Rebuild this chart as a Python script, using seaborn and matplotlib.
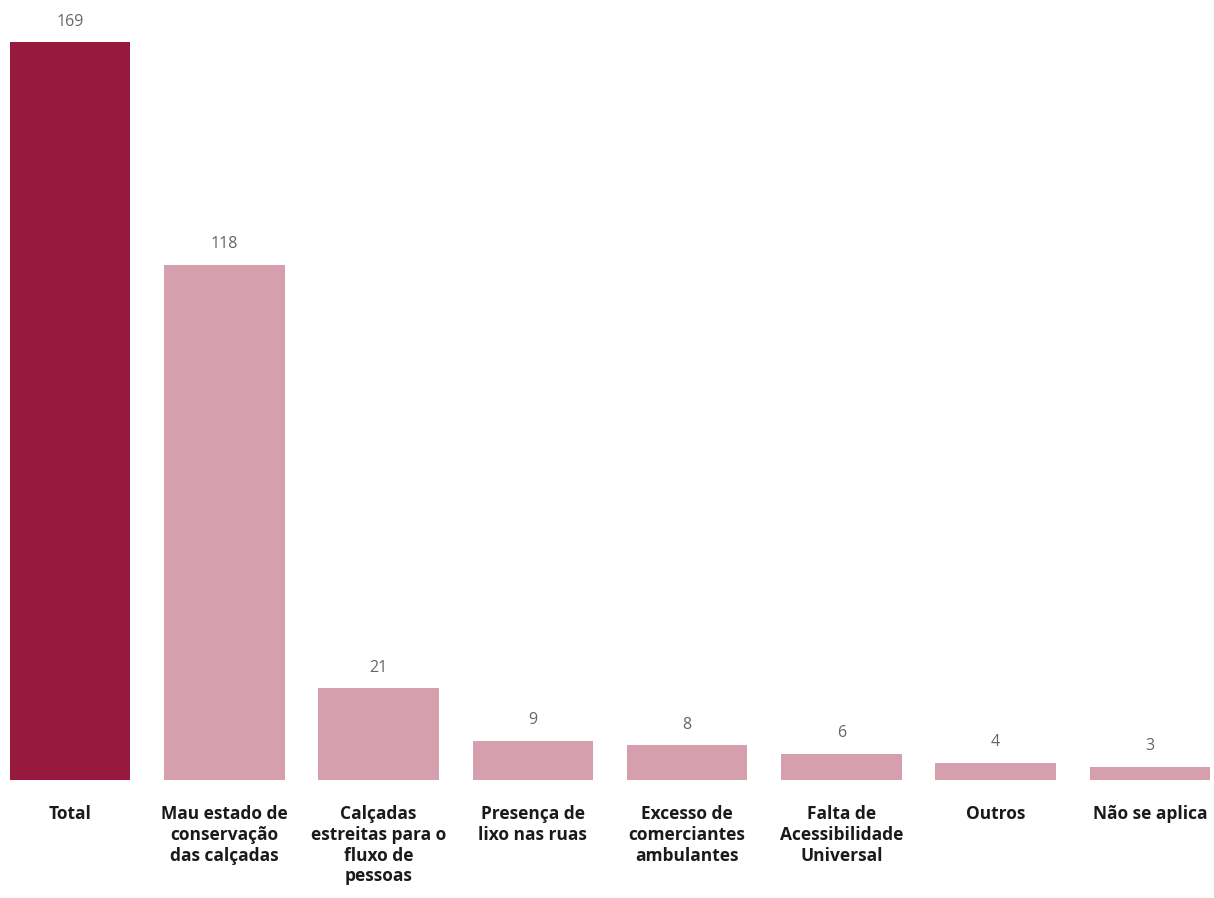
import matplotlib
matplotlib.use("Agg")
import matplotlib.pyplot as plt
import seaborn as sns
import pandas as pd

categories = [
    "Total",
    "Mau estado de\nconservação\ndas calçadas",
    "Calçadas\nestreitas para o\nfluxo de\npessoas",
    "Presença de\nlixo nas ruas",
    "Excesso de\ncomerciantes\nambulantes",
    "Falta de\nAcessibilidade\nUniversal",
    "Outros",
    "Não se aplica",
]
values = [169, 118, 21, 9, 8, 6, 4, 3]
colors = ["#971a3e"] + ["#d59fae"] * 7

sns.set_theme(style="white")
plt.rcParams["font.family"] = ["Open Sans", "DejaVu Sans"]

df = pd.DataFrame({"categoria": categories, "valor": values})

fig = plt.figure(figsize=(12.14, 8.98), dpi=100)
ax = fig.add_axes([10 / 1214, 1 - 780 / 898, 1200 / 1214, 738 / 898])

sns.barplot(data=df, x="categoria", y="valor", hue="categoria",
            palette=colors, legend=False, width=0.78, saturation=1,
            linewidth=0, ax=ax)

ax.set_xlim(-0.39, len(categories) - 1 + 0.39)
ax.set_ylim(0, 169)

for i, v in enumerate(values):
    ax.annotate(str(v), (i, v), xytext=(0, 9), textcoords="offset points",
                ha="center", va="bottom", fontsize=11.5, color="#666666",
                clip_on=False)

ax.set_xlabel("")
ax.set_ylabel("")
ax.set_yticks([])
ax.tick_params(axis="x", length=0, pad=18)
for lbl in ax.get_xticklabels():
    lbl.set_fontsize(12.5)
    lbl.set_fontweight("bold")
    lbl.set_color("#1a1a1a")
    lbl.set_linespacing(1.2)
    lbl.set_verticalalignment("top")
sns.despine(ax=ax, left=True, bottom=True, top=True, right=True)

fig.savefig("out.png", dpi=100, facecolor="white")
